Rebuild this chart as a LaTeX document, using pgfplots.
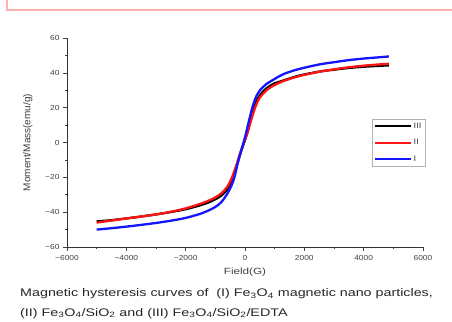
\documentclass[border=0pt]{standalone}
\usepackage{pgfplots}
\pgfplotsset{compat=1.18}
\usepackage{fontspec}
\setmainfont{Liberation Sans}
\newfontfamily\tickfont[FakeStretch=1.15]{Liberation Sans}
\newfontfamily\xlabfont[FakeStretch=1.3]{Liberation Sans}
\newfontfamily\capfont[FakeStretch=1.3]{Liberation Sans}
\definecolor{pinkframe}{RGB}{255,175,175}
\definecolor{myred}{RGB}{255,20,20}
\definecolor{myblue}{RGB}{20,20,255}
\begin{document}
\begin{tikzpicture}[x=1pt,y=1pt]
\path[use as bounding box] (0,0) rectangle (452,321);
\draw[pinkframe,line width=1.6pt] (7,321) -- (7,311) -- (452,311);
\begin{axis}[
  at={(67pt,74pt)}, anchor=south west,
  scale only axis, width=356pt, height=209pt,
  xmin=-6000, xmax=6000, ymin=-60, ymax=60,
  axis x line*=bottom, axis y line*=left,
  axis line style={black!80, line width=0.8pt},
  tick align=outside,
  major tick length=4pt, minor tick length=2.2pt,
  every tick/.style={black!75, line width=0.6pt},
  xtick={-6000,-4000,...,6000},
  xticklabels={−6000,−4000,−2000,0,2000,4000,6000},
  ytick={-60,-40,...,60},
  yticklabels={−60,−40,−20,0,20,40,60},
  minor x tick num=1, minor y tick num=1,
  ticklabel style={font=\tickfont\fontsize{7.3}{8}\selectfont, text=black!75},
  xticklabel style={yshift=-1pt},
  xlabel={\xlabfont Field(G)}, ylabel={Moment/Mass(emu/g)},
  xlabel style={font=\fontsize{9}{10}\selectfont, text=black!75,
    at={(axis description cs:0.5,-0.12)}, anchor=center},
  ylabel style={font=\fontsize{10}{11}\selectfont, text=black!75,
    at={(axis description cs:-0.11,0.5)}, anchor=center},
  legend style={at={(0.856,0.612)}, anchor=north west, draw=black!30,
    font=\tickfont\fontsize{8}{9}\selectfont, text=black!75, inner sep=1.5pt, row sep=5.5pt,
    legend cell align=left},
  legend image code/.code={\draw[#1] (0pt,0pt) -- (36pt,0pt);},
  every axis plot/.append style={line width=2.3pt, smooth, tension=0.5},
]
\addplot[black] table {
-5000 -45.3
-4500 -44.6
-4000 -43.6
-3500 -42.5
-3000 -41.3
-2500 -39.9
-2000 -38.3
-1500 -36.0
-1200 -34.2
-1000 -32.6
-800 -30.5
-600 -27.0
-450 -22.0
-300 -14.5
-150 -6.0
0 1.5
100 7.0
200 13.5
300 19.5
400 24.0
500 27.0
650 30.0
800 32.0
1000 34.0
1300 35.6
1800 38.3
2500 40.7
3000 41.8
3500 42.8
4000 43.5
4500 44.0
4850 44.3
};
\addlegendentry{III}
\addplot[myred] table {
-5000 -46.0
-4500 -44.8
-4000 -43.6
-3500 -42.5
-3000 -41.3
-2500 -39.8
-2000 -37.8
-1500 -35.2
-1200 -33.2
-1000 -31.5
-800 -29.2
-600 -25.5
-450 -20.5
-300 -13.5
-150 -5.5
0 1.5
100 6.5
200 12.5
300 18.0
400 22.5
500 25.8
650 28.8
800 31.0
1000 33.0
1300 35.3
1800 38.0
2500 40.6
3000 42.0
3500 43.2
4000 44.1
4500 44.8
4850 45.2
};
\addlegendentry{II}
\addplot[myblue] table {
-5000 -50.0
-4500 -49.2
-4000 -48.3
-3500 -47.3
-3000 -46.2
-2500 -44.9
-2000 -43.3
-1500 -40.9
-1200 -38.8
-1000 -37.0
-800 -34.3
-600 -29.5
-450 -24.5
-350 -19.5
-225 -10.5
-100 -3.0
0 3.0
100 10.0
200 17.0
300 23.0
400 27.2
500 29.9
700 33.3
1000 36.5
1300 39.3
1800 42.1
2500 44.8
3000 46.1
3500 47.3
4000 48.2
4500 48.9
4850 49.4
};
\addlegendentry{I}
\end{axis}
\node[anchor=base west, font=\capfont\fontsize{11}{12}\selectfont, text=black!85, inner sep=0pt] at (20,24)
  {Magnetic hysteresis curves of \ (I) Fe\textsubscript{3}O\textsubscript{4} magnetic nano particles,};
\node[anchor=base west, font=\capfont\fontsize{11}{12}\selectfont, text=black!85, inner sep=0pt] at (20,5)
  {(II) Fe\textsubscript{3}O\textsubscript{4}/SiO\textsubscript{2} and (III) Fe\textsubscript{3}O\textsubscript{4}/SiO\textsubscript{2}/EDTA};
\end{tikzpicture}
\end{document}
